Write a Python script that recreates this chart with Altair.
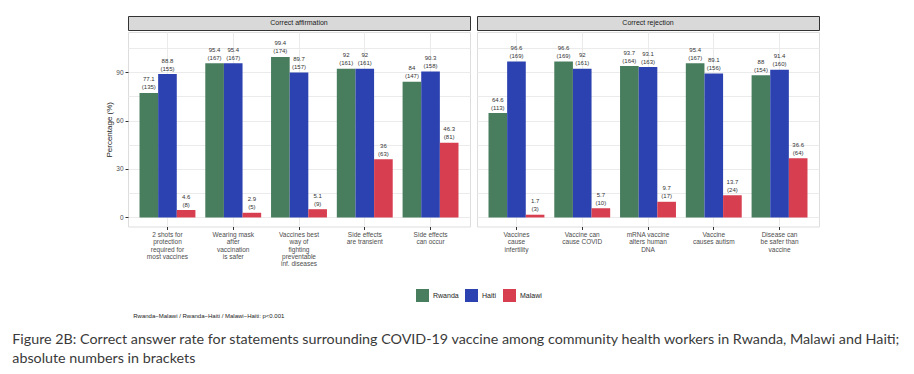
import altair as alt
import pandas as pd

countries = ["Rwanda", "Haiti", "Malawi"]
colors = ["#487D5E", "#2C42B0", "#D73E50"]

aff_title = "Correct affirmation"
aff_statements = [
    "2 shots for\nprotection\nrequired for\nmost vaccines",
    "Wearing mask\nafter\nvaccination\nis safer",
    "Vaccines best\nway of\nfighting\npreventable\ninf. diseases",
    "Side effects\nare transient",
    "Side effects\ncan occur",
]
aff_rwanda = [77.1, 95.4, 99.4, 92, 84]
aff_rwanda_n = [135, 167, 174, 161, 147]
aff_haiti = [88.8, 95.4, 89.7, 92, 90.3]
aff_haiti_n = [155, 167, 157, 161, 158]
aff_malawi = [4.6, 2.9, 5.1, 36, 46.3]
aff_malawi_n = [8, 5, 9, 63, 81]

rej_title = "Correct rejection"
rej_statements = [
    "Vaccines\ncause\ninfertility",
    "Vaccine can\ncause COVID",
    "mRNA vaccine\nalters human\nDNA",
    "Vaccine\ncauses autism",
    "Disease can\nbe safer than\nvaccine",
]
rej_rwanda = [64.6, 96.6, 93.7, 95.4, 88]
rej_rwanda_n = [113, 169, 164, 167, 154]
rej_haiti = [96.6, 92, 93.1, 89.1, 91.4]
rej_haiti_n = [169, 161, 163, 156, 160]
rej_malawi = [1.7, 5.7, 9.7, 13.7, 36.6]
rej_malawi_n = [3, 10, 17, 24, 64]

footnote = "Rwanda\u2212Malawi / Rwanda\u2212Haiti / Malawi\u2212Haiti: p<0.001"
caption = [
    "Figure 2B: Correct answer rate for statements surrounding COVID-19 vaccine among community health workers in Rwanda, Malawi and Haiti;",
    "absolute numbers in brackets",
]

FONT = "Liberation Sans"
W = 342
H = 194.5
STRIP_H = 14
Y_DOMAIN = [-5.6, 114.8]
Y_GRID = [0, 15, 30, 45, 60, 75, 90, 105]


def make_df(statements, series):
    rows = []
    for country, (vals, ns) in zip(countries, series):
        for s, v, n in zip(statements, vals, ns):
            rows.append({"statement": s, "country": country, "pct": v, "n": n,
                         "pct_label": f"{v:g}", "n_label": f"({n})"})
    return pd.DataFrame(rows)


legend = alt.Legend(orient="none", legendX=288, legendY=273, direction="horizontal",
                    title=None, symbolType="square", symbolSize=169, symbolStrokeWidth=0,
                    symbolOpacity=1, labelFontSize=7, labelFont=FONT, labelColor="#1a1a1a",
                    columnPadding=6, labelOffset=4)


def panel(df, statements, title, first):
    x = alt.X("statement:N", sort=statements,
              scale=alt.Scale(paddingInner=0.15, paddingOuter=0.175),
              axis=alt.Axis(title=None, labelAngle=0, labelFontSize=6.5, labelFont=FONT,
                            labelColor="#4d4d4d", labelLineHeight=7.3,
                            labelExpr="split(datum.label, '\\n')", labelBaseline="top",
                            labelPadding=2, tickSize=3, tickColor="#333333", domain=False,
                            grid=True, gridColor="#ebebeb", bandPosition=0.5,
                            labelLimit=0))
    if first:
        yaxis = alt.Axis(title="Percentage (%)", titleFont=FONT, titleFontSize=8,
                         titleFontWeight="normal", titleColor="#1a1a1a", titlePadding=2,
                         values=Y_GRID, labelFontSize=6.5, labelFont=FONT,
                         labelColor="#4d4d4d",
                         labelExpr="datum.value % 30 == 0 ? datum.label : ''",
                         tickOpacity={"expr": "datum.value % 30 == 0 ? 1 : 0"},
                         tickSize=3, tickColor="#333333", labelPadding=2, domain=False,
                         grid=True, gridColor="#ebebeb")
    else:
        yaxis = alt.Axis(title=None, values=Y_GRID, labels=False, ticks=False,
                         domain=False, grid=True, gridColor="#ebebeb")
    y = alt.Y("pct:Q", scale=alt.Scale(domain=Y_DOMAIN, nice=False), axis=yaxis)
    xo = alt.XOffset("country:N", sort=countries)
    color = alt.Color("country:N", sort=countries,
                      scale=alt.Scale(domain=countries, range=colors), legend=legend)
    base = alt.Chart(df)
    bars = base.mark_bar().encode(x=x, y=y, xOffset=xo, color=color)
    pct_text = base.mark_text(baseline="bottom", dy=-10.5, fontSize=6, font=FONT,
                              color="#333333").encode(
        x=x, y=y, xOffset=xo, text="pct_label:N")
    n_text = base.mark_text(baseline="bottom", dy=-2.5, fontSize=6, font=FONT,
                            color="#333333").encode(
        x=x, y=y, xOffset=xo, text="n_label:N")
    body = alt.layer(bars, pct_text, n_text).properties(width=W, height=H)
    strip = alt.Chart(pd.DataFrame({"facet": [title]})).mark_text(
        font=FONT, fontSize=7, color="#1a1a1a").encode(
        text="facet:N", x=alt.value(W / 2), y=alt.value(STRIP_H / 2)
    ).properties(width=W, height=STRIP_H,
                 view=alt.ViewBackground(fill="#d9d9d9", stroke="#333333", strokeWidth=1))
    return alt.vconcat(strip, body, spacing=0)


left = panel(make_df(aff_statements, [(aff_rwanda, aff_rwanda_n), (aff_haiti, aff_haiti_n),
                                      (aff_malawi, aff_malawi_n)]), aff_statements, aff_title, True)
right = panel(make_df(rej_statements, [(rej_rwanda, rej_rwanda_n), (rej_haiti, rej_haiti_n),
                                       (rej_malawi, rej_malawi_n)]), rej_statements, rej_title, False)

panels = alt.hconcat(left, right, spacing=5).properties(
    title=alt.TitleParams(text=footnote, orient="bottom", anchor="start", font=FONT,
                          fontSize=6, fontWeight="normal", color="#1a1a1a", offset=45, dx=28)
)

chart = alt.vconcat(panels).properties(
    title=alt.TitleParams(text=caption, orient="bottom", anchor="start", font="Lato",
                          fontSize=14.3, fontWeight="normal", color="#3a3a3a", lineHeight=19,
                          offset=14, dx=-93),
    padding={"left": 4, "top": 7, "right": 5, "bottom": 5},
).configure_view(stroke="#333333", strokeWidth=1).configure(background="white")

chart.save("out.html", embed_options={"renderer": "svg", "actions": False})
